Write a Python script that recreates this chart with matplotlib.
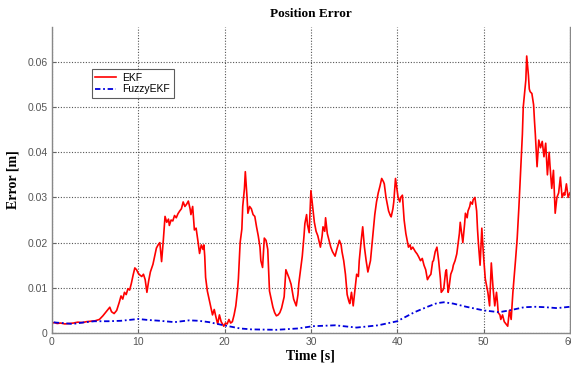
import matplotlib
matplotlib.use("Agg")
import matplotlib.pyplot as plt

# ---------------- data ----------------
ekf_t = [0.0, 0.3, 0.6, 1.0, 1.5, 2.0, 2.5, 3.0, 3.5, 4.0, 4.5, 5.0, 5.5, 5.9, 6.2, 6.5, 6.7, 6.9,
         7.2, 7.5, 7.8, 8.0, 8.2, 8.4, 8.6, 8.8, 9.0, 9.2, 9.4, 9.6, 9.8, 10.0, 10.2, 10.4, 10.6,
         10.8, 11.0, 11.2, 11.4, 11.7, 11.9, 12.1, 12.3, 12.5, 12.7, 12.9, 13.1, 13.3, 13.5, 13.6,
         13.8, 14.0, 14.2, 14.4, 14.6, 14.8, 15.0, 15.2, 15.4, 15.6, 15.8, 16.0, 16.1, 16.3, 16.5,
         16.7, 16.9, 17.1, 17.3, 17.5, 17.6, 17.7, 17.8, 18.0, 18.2, 18.4, 18.6, 18.8, 19.0, 19.2,
         19.4, 19.6, 19.9, 20.1, 20.3, 20.5, 20.7, 20.9, 21.1, 21.3, 21.5, 21.6, 21.8, 22.0, 22.1,
         22.3, 22.4, 22.6, 22.7, 22.9, 23.1, 23.3, 23.5, 23.7, 23.9, 24.1, 24.2, 24.4, 24.6, 24.8,
         25.0, 25.2, 25.4, 25.6, 25.8, 26.0, 26.2, 26.4, 26.6, 26.9, 27.1, 27.3, 27.5, 27.7, 27.9,
         28.0, 28.2, 28.3, 28.5, 28.6, 28.8, 29.0, 29.2, 29.3, 29.5, 29.6, 29.8, 30.0, 30.2, 30.4,
         30.6, 30.8, 31.1, 31.3, 31.4, 31.6, 31.7, 31.9, 32.1, 32.3, 32.5, 32.8, 33.0, 33.3, 33.5,
         33.6, 33.8, 34.0, 34.2, 34.4, 34.5, 34.7, 34.9, 35.1, 35.3, 35.5, 35.6, 35.8, 36.0, 36.2,
         36.4, 36.6, 36.9, 37.1, 37.3, 37.4, 37.6, 37.8, 38.0, 38.2, 38.4, 38.5, 38.7, 39.0, 39.2,
         39.3, 39.5, 39.6, 39.8, 40.0, 40.1, 40.3, 40.4, 40.6, 40.8, 41.0, 41.2, 41.3, 41.5, 41.6,
         41.8, 42.1, 42.3, 42.5, 42.7, 42.9, 43.1, 43.3, 43.5, 43.7, 43.9, 44.1, 44.2, 44.4, 44.6,
         44.8, 45.0, 45.1, 45.3, 45.4, 45.6, 45.7, 45.9, 46.0, 46.2, 46.4, 46.5, 46.7, 46.9, 47.0,
         47.2, 47.3, 47.5, 47.6, 47.8, 47.9, 48.1, 48.2, 48.4, 48.5, 48.7, 48.8, 49.0, 49.1, 49.2,
         49.3, 49.4, 49.6, 49.7, 49.8, 50.0, 50.2, 50.4, 50.5, 50.7, 50.8, 50.9, 51.1, 51.3, 51.5,
         51.6, 51.7, 51.9, 52.0, 52.2, 52.4, 52.6, 52.8, 53.0, 53.2, 53.4, 53.7, 53.9, 54.1, 54.3,
         54.5, 54.6, 54.8, 54.9, 55.0, 55.2, 55.3, 55.4, 55.6, 55.8, 55.9, 56.0, 56.2, 56.4, 56.6,
         56.8, 57.0, 57.2, 57.4, 57.6, 57.7, 57.9, 58.1, 58.3, 58.5, 58.7, 58.9, 59.1, 59.3, 59.4,
         59.6, 59.8, 60.0]
ekf_err = [0.0022, 0.0023, 0.0021, 0.0022, 0.0020, 0.0021, 0.0022, 0.0024, 0.0023, 0.0025, 0.0026,
           0.0027, 0.0030, 0.0038, 0.0045, 0.0052, 0.0057, 0.0047, 0.0043, 0.0050, 0.0068, 0.0082,
           0.0075, 0.0090, 0.0085, 0.0098, 0.0095, 0.0110, 0.0128, 0.0144, 0.0140, 0.0132, 0.0128,
           0.0125, 0.0130, 0.0118, 0.0090, 0.0115, 0.0135, 0.0152, 0.0170, 0.0188, 0.0195, 0.0200,
           0.0158, 0.0205, 0.0258, 0.0245, 0.0252, 0.0238, 0.0250, 0.0248, 0.0260, 0.0255, 0.0264,
           0.0270, 0.0275, 0.0290, 0.0280, 0.0285, 0.0292, 0.0275, 0.0262, 0.0280, 0.0228, 0.0232,
           0.0205, 0.0176, 0.0195, 0.0185, 0.0195, 0.0170, 0.0123, 0.0093, 0.0075, 0.0057, 0.0040,
           0.0052, 0.0035, 0.0020, 0.0040, 0.0025, 0.0015, 0.0022, 0.0020, 0.0030, 0.0022, 0.0025,
           0.0040, 0.0060, 0.0095, 0.0120, 0.0200, 0.0230, 0.0280, 0.0320, 0.0357, 0.0300, 0.0265,
           0.0280, 0.0275, 0.0262, 0.0258, 0.0235, 0.0215, 0.0190, 0.0160, 0.0145, 0.0210, 0.0205,
           0.0185, 0.0093, 0.0075, 0.0057, 0.0045, 0.0038, 0.0040, 0.0045, 0.0055, 0.0080, 0.0140,
           0.0130, 0.0120, 0.0108, 0.0085, 0.0075, 0.0065, 0.0060, 0.0085, 0.0110, 0.0140, 0.0170,
           0.0215, 0.0242, 0.0262, 0.0240, 0.0222, 0.0315, 0.0280, 0.0245, 0.0225, 0.0215, 0.0190,
           0.0215, 0.0235, 0.0225, 0.0255, 0.0220, 0.0205, 0.0190, 0.0180, 0.0170, 0.0185, 0.0205,
           0.0195, 0.0180, 0.0160, 0.0130, 0.0085, 0.0070, 0.0065, 0.0090, 0.0060, 0.0095, 0.0130,
           0.0125, 0.0160, 0.0200, 0.0235, 0.0190, 0.0160, 0.0135, 0.0160, 0.0200, 0.0240, 0.0262,
           0.0290, 0.0310, 0.0325, 0.0342, 0.0335, 0.0330, 0.0300, 0.0270, 0.0260, 0.0257, 0.0275,
           0.0290, 0.0342, 0.0315, 0.0300, 0.0290, 0.0300, 0.0305, 0.0250, 0.0220, 0.0200, 0.0190,
           0.0195, 0.0185, 0.0190, 0.0180, 0.0175, 0.0168, 0.0160, 0.0165, 0.0150, 0.0140, 0.0118,
           0.0125, 0.0130, 0.0158, 0.0160, 0.0180, 0.0190, 0.0160, 0.0120, 0.0090, 0.0095, 0.0100,
           0.0135, 0.0140, 0.0090, 0.0100, 0.0130, 0.0140, 0.0150, 0.0160, 0.0175, 0.0190, 0.0220,
           0.0245, 0.0215, 0.0200, 0.0240, 0.0265, 0.0255, 0.0270, 0.0280, 0.0290, 0.0285, 0.0295,
           0.0300, 0.0285, 0.0270, 0.0230, 0.0200, 0.0150, 0.0190, 0.0232, 0.0170, 0.0120, 0.0100,
           0.0090, 0.0060, 0.0110, 0.0155, 0.0100, 0.0060, 0.0090, 0.0070, 0.0045, 0.0040, 0.0030,
           0.0040, 0.0025, 0.0020, 0.0015, 0.0050, 0.0030, 0.0090, 0.0160, 0.0210, 0.0280, 0.0360,
           0.0440, 0.0500, 0.0540, 0.0560, 0.0613, 0.0570, 0.0540, 0.0534, 0.0530, 0.0505, 0.0470,
           0.0440, 0.0368, 0.0427, 0.0410, 0.0424, 0.0390, 0.0420, 0.0350, 0.0400, 0.0370, 0.0320,
           0.0360, 0.0265, 0.0300, 0.0310, 0.0345, 0.0300, 0.0310, 0.0305, 0.0330, 0.0300, 0.0310]

fuzzy_t = [0.0, 0.0, 0.5, 1.2, 2.4, 3.5, 4.9, 6.5, 8.0, 10.0, 11.0, 12.5, 14.2, 15.9, 17.0, 18.2,
           19.9, 21.0, 21.8, 23.1, 26.0, 28.5, 30.2, 32.8, 35.3, 37.8, 40.0, 42.0, 43.5, 44.6,
           45.4, 46.5, 48.0, 50.0, 51.8, 53.0, 54.7, 56.0, 57.2, 58.5, 60.0]
fuzzy_err = [0.0, 0.0024, 0.0023, 0.0022, 0.0020, 0.0023, 0.0026, 0.0026, 0.0027, 0.0031, 0.0029,
             0.0027, 0.0024, 0.0028, 0.0027, 0.0024, 0.0017, 0.0013, 0.0010, 0.0008, 0.0007,
             0.0010, 0.0015, 0.0017, 0.0012, 0.0017, 0.0026, 0.0046, 0.0058, 0.0066, 0.0068,
             0.0065, 0.0058, 0.0050, 0.0046, 0.0050, 0.0057, 0.0058, 0.0057, 0.0055, 0.0058]

x_ticks = [0, 10, 20, 30, 40, 50, 60]
x_tick_labels = ["0", "10", "20", "30", "40", "50", "60"]
y_ticks = [0, 0.01, 0.02, 0.03, 0.04, 0.05, 0.06]
y_tick_labels = ["0", "0.01", "0.02", "0.03", "0.04", "0.05", "0.06"]

# ---------------- figure ----------------
fig = plt.figure(figsize=(5.71, 3.69), dpi=100)
ax = fig.add_axes([0.091, 0.0976, 0.907, 0.829])

ax.plot(ekf_t, ekf_err, color="#ff0000", lw=1.2, label="EKF")
ax.plot(fuzzy_t, fuzzy_err, color="#0000dd", lw=1.3, dashes=(3.0, 1.5, 1.0, 1.5),
        label="FuzzyEKF")

ax.set_xlim(0, 60)
ax.set_ylim(0, 0.0677)
ax.set_xticks(x_ticks)
ax.set_xticklabels(x_tick_labels)
ax.set_yticks(y_ticks)
ax.set_yticklabels(y_tick_labels)

ax.grid(True, ls=(0, (1.0, 1.5)), color="#555555", lw=0.8)
ax.tick_params(direction="in", length=3, colors="#666666", labelsize=7.5,
               labelcolor="#555555", pad=3)
for lab in ax.get_xticklabels() + ax.get_yticklabels():
    lab.set_family("Liberation Sans")

ax.spines["top"].set_visible(False)
for s in ("left", "bottom", "right"):
    ax.spines[s].set_color("#888888")
    ax.spines[s].set_linewidth(1.0)

ax.set_title("Position Error", fontfamily="Liberation Serif", fontweight="bold",
             fontsize=9.5, pad=7)
ax.set_xlabel("Time [s]", fontfamily="Liberation Serif", fontweight="bold",
              fontsize=10, labelpad=2)
ax.set_ylabel("Error [m]", fontfamily="Liberation Serif", fontweight="bold",
              fontsize=10, labelpad=6)

leg = ax.legend(loc="upper left", bbox_to_anchor=(0.077, 0.863), fancybox=False,
                prop={"family": "Liberation Sans", "size": 7.5}, handlelength=2.0,
                borderpad=0.35, labelspacing=0.15, handletextpad=0.6, borderaxespad=0)
leg.get_frame().set_edgecolor("#333333")
leg.get_frame().set_linewidth(0.8)

fig.savefig("out.png", dpi=100)
